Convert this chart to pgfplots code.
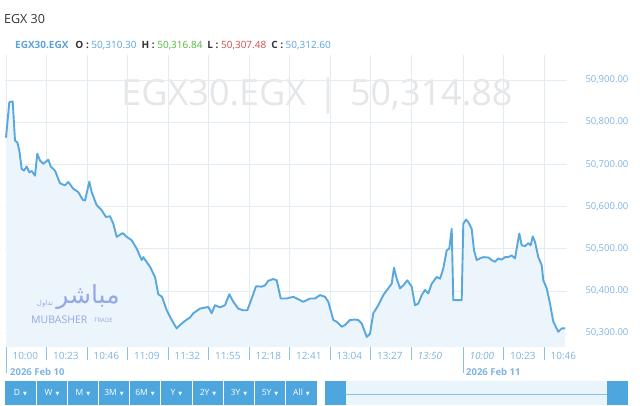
\documentclass[border=0pt]{standalone}
\usepackage{pgfplots}
\pgfplotsset{compat=1.18}
\usepackage{pgfplotstable}
\usepackage{fontspec}
\setmainfont{Open Sans}
\newfontfamily\dejavu{DejaVu Sans}
\newfontfamily\arabicfont[Script=Arabic]{DejaVu Sans}
\TeXXeTstate=1
\definecolor{linec}{HTML}{58A8DE}
\definecolor{fillc}{HTML}{EDF5FC}
\definecolor{gridc}{HTML}{E2ECF3}
\definecolor{tickc}{HTML}{8CC0E6}
\definecolor{labc}{HTML}{7DB4E0}
\definecolor{hdrblue}{HTML}{5BA3DC}
\definecolor{hgreen}{HTML}{4DBA3A}
\definecolor{hred}{HTML}{D84848}
\definecolor{btnc}{HTML}{4EA6DF}
\definecolor{scrollbg}{HTML}{EAF4FB}
\definecolor{wm}{HTML}{E6E6E6}
\definecolor{logoc}{HTML}{93A8E6}
\definecolor{darkt}{HTML}{333333}

\pgfplotstableread{
x y
6 50763
9.3 50847
12.7 50849
15 50756
17.3 50752
19.3 50733
21.7 50689
24 50685
26.7 50695
29.3 50681
31.7 50684
35 50673
37.3 50725
40 50709
43.3 50701
48.3 50711
50.7 50695
55 50685
60 50655
65 50650
68.3 50658
73.3 50642
78.3 50634
82.7 50616
85 50614
89.3 50659
91.7 50634
96.7 50603
101.7 50591
106 50575
110 50577
113.3 50559
116.7 50528
122.7 50537
126.7 50528
131.7 50520
136.7 50500
141.7 50473
143.3 50480
150 50457
155 50433
158.3 50392
162 50386
166.7 50354
171.7 50331
176.7 50311
180 50319
185 50329
190 50337
193.3 50347
200 50358
208.3 50362
211.7 50347
215 50366
220 50361
225 50366
229.3 50392
233.3 50374
238.3 50358
243.3 50354
247.3 50354
251.7 50382
256 50411
261.7 50410
265 50413
268.3 50424
273.3 50428
276.7 50425
280.7 50382
286.7 50382
293.3 50386
296.7 50382
303.3 50374
310 50382
315 50382
320 50390
325 50386
328.3 50374
333.3 50331
336.7 50327
341.7 50315
345 50319
350 50331
355 50332
358.3 50331
361.7 50323
366.7 50291
370 50298
373.3 50347
378.3 50366
383.3 50390
388.3 50406
391.7 50417
394 50455
396.7 50429
400 50406
403.3 50413
407.3 50425
411.7 50410
415 50366
418.3 50370
421.7 50390
425 50402
428.3 50394
431.7 50417
436.7 50433
440 50429
443.3 50453
446.7 50496
449.3 50500
451.7 50547
453.3 50378
459.3 50378
461.7 50378
463.3 50559
466 50569
468.3 50563
471.7 50547
474 50496
476.7 50473
480 50477
483.3 50480
488.3 50479
491.7 50473
495 50469
498.3 50477
501.7 50474
505 50480
508.3 50480
511.7 50484
515 50477
519.3 50536
521.7 50508
525 50506
528.3 50513
530.7 50508
532.7 50529
535 50516
538.3 50480
541.7 50461
543.3 50425
546.7 50406
550 50370
553.3 50327
558.3 50303
561.7 50311
565 50311
}\datatable

\begin{document}
\begin{tikzpicture}[x=1pt,y=1pt]
\path[use as bounding box] (0,0) rectangle (640,405);
% header
\node[anchor=west, inner sep=0pt, text=darkt, font=\fontsize{12.5}{14}\selectfont] at (4,386) {EGX 30};
\node[anchor=west, inner sep=0pt, font=\fontsize{10}{12}\selectfont] at (15,359)
 {{\bfseries\color{hdrblue}EGX30.EGX}\hspace{7pt}{\bfseries\color{darkt}O :} {\color{hdrblue}50,310.30}\hspace{5pt}{\bfseries\color{darkt}H :} {\color{hgreen}50,316.84}\hspace{5pt}{\bfseries\color{darkt}L :} {\color{hred}50,307.48}\hspace{5pt}{\bfseries\color{darkt}C :} {\color{hdrblue}50,312.60}};
% watermark
\node[text=wm, inner sep=0pt, font=\fontsize{36}{40}\selectfont] at (317,309) {EGX30.EGX\hspace{12pt}|\hspace{12pt}50,314.88};

\begin{axis}[
  at={(5pt,58pt)}, anchor=south west,
  scale only axis, width=562pt, height=292pt,
  xmin=5, xmax=567, ymin=50267, ymax=50959,
  axis x line*=bottom, axis y line*=right,
  axis line style={draw=none},
  grid=major,
  major grid style={color=gridc, line width=0.6pt},
  ytick={50300,50400,50500,50600,50700,50800,50900},
  scaled y ticks=false,
  yticklabel style={anchor=west, xshift=2pt, text=labc, font=\fontsize{9.5}{11}\selectfont,
    /pgf/number format/.cd, fixed, fixed zerofill, precision=2, 1000 sep={,}, assume math mode=true},
  ytick style={draw=none},
  xtick={6,46.5,87,127.5,168,208.5,249,289.5,330,370.5,411,463,503.5,544},
  xticklabels={10:00,10:23,10:46,11:09,11:32,11:55,12:18,12:41,13:04,13:27,\textit{13:50},\textit{10:00},10:23,10:46},
  xticklabel style={anchor=west, xshift=3pt, yshift=4pt, text=labc, font=\fontsize{10}{12}\selectfont},
  tick align=outside,
  major tick length=13pt,
  xtick style={color=tickc, line width=1pt},
  extra x ticks={6,463},
  extra x tick labels={},
  extra x tick style={major tick length=26pt, grid=none},
  clip=true,
]
\addplot[draw=none, fill=fillc] table[x=x,y=y] {\datatable} \closedcycle;
\addplot[color=linec, line width=1.9pt, line join=round] table[x=x,y=y] {\datatable};
\end{axis}

% logo watermark
\node[text=logoc, inner sep=0pt, font=\fontsize{25}{27}\selectfont\arabicfont] at (88,108) {\beginR مباشر\endR};
\node[text=logoc, inner sep=0pt, font=\fontsize{7}{8}\selectfont\arabicfont] at (45,101) {\beginR تداول\endR};
\node[text=logoc, inner sep=0pt, anchor=west, font=\fontsize{10.5}{12}\selectfont] at (31,85) {MUBASHER};
\node[text=logoc, inner sep=0pt, anchor=west, font=\fontsize{6}{7}\selectfont] at (94,85) {TRADE};

% dates
\node[anchor=west, inner sep=0pt, text=labc, font=\bfseries\fontsize{9.5}{11}\selectfont] at (10,33) {2026 Feb 10};
\node[anchor=west, inner sep=0pt, text=labc, font=\bfseries\fontsize{9.5}{11}\selectfont] at (466,33) {2026 Feb 11};

% range buttons
\foreach \a/\b/\t in {5/36/D,37/67/W,68/98/M,99/129/3M,130/160/6M,161/192/Y,193/223/2Y,224/254/3Y,255/285/5Y,286/317/All}{
  \fill[btnc] (\a,0) rectangle (\b,24);
  \node[text=white, inner sep=0pt, font=\fontsize{8.5}{10}\selectfont] at ({(\a+\b)/2},12) {\t\hspace{3pt}{\dejavu\fontsize{5}{6}\selectfont ▼}};
}
% scrollbar
\fill[scrollbg] (325,0) rectangle (628,24);
\draw[color=tickc, line width=0.8pt] (346,11) -- (607,11);
\fill[btnc] (325,0) rectangle (346,24);
\fill[btnc] (607,0) rectangle (628,24);
\end{tikzpicture}
\end{document}
